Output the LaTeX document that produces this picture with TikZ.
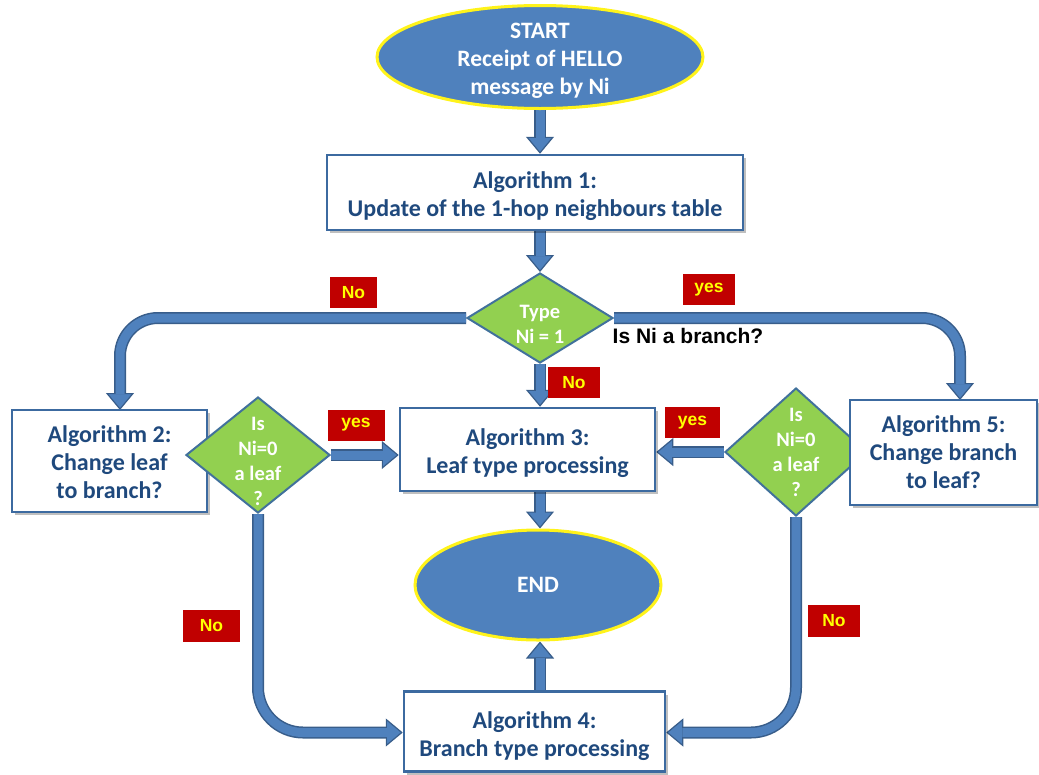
\documentclass[tikz,border=0pt]{standalone}
\usepackage{fontspec}
\setmainfont{Carlito}
\newfontfamily\arialf{Liberation Sans}
\usetikzlibrary{shapes.geometric,arrows.meta,shadows,backgrounds,calc}
\definecolor{blueFill}{HTML}{4F81BD}
\definecolor{blueEdge}{HTML}{385D8A}
\definecolor{boxEdge}{HTML}{3C6AA0}
\definecolor{textBlue}{HTML}{1F497D}
\definecolor{greenFill}{HTML}{92D050}
\definecolor{greenEdge}{HTML}{41719C}
\definecolor{lblRed}{HTML}{C00000}
\definecolor{lblYellow}{HTML}{FFFF00}
\newcommand\tpush[1]{\rule{0pt}{#1pt}}
\tikzset{
  terminal/.style={ellipse, fill=blueFill, draw=yellow!90!white, line width=3pt, inner sep=-12pt,
    text=white, font=\bfseries\fontsize{23.5}{28}\selectfont, align=center},
  algbox/.style={rectangle, fill=white, draw=boxEdge, line width=2.5pt, inner sep=0pt,
    text=textBlue, font=\bfseries\fontsize{24}{28}\selectfont, align=center,
    drop shadow={shadow xshift=3pt, shadow yshift=-3pt, fill=black, opacity=0.25}},
  decision/.style={diamond, fill=greenFill, draw=greenEdge, line width=2pt, inner sep=-25pt,
    text=white, font=\bfseries\fontsize{20.5}{25}\selectfont, align=center},
  answer/.style={rectangle, fill=lblRed, inner sep=0pt, text=lblYellow,
    font=\arialf\bfseries\fontsize{17.5}{20}\selectfont},
  pipe/.style={draw=blueFill, line width=9pt, shorten >=16pt,
    preaction={draw=blueEdge, line width=12pt, shorten >=0pt,
      -{Triangle[length=17pt,width=28pt,line width=1.2pt,fill=blueFill]}}}
}
\begin{document}
\begin{tikzpicture}[x=1pt,y=-1pt]
\useasboundingbox (0,0) rectangle (1039,774);

% nodes
\node[terminal, minimum width=326pt, minimum height=103pt] (start) at (540,57)
  {\tpush{23}START\\Receipt of HELLO\\message by Ni};
\node[algbox, minimum width=416pt, minimum height=75pt] (alg1) at (535,192.5)
  {\tpush{25}Algorithm 1:\\Update of the 1-hop neighbours table};
\node[decision, minimum width=146pt, minimum height=90pt, aspect=1.6] (d1) at (540,318)
  {\tpush{25}Type\\Ni = 1};
\node[algbox, minimum width=195pt, minimum height=102pt] (alg2) at (109.5,461)
  {\tpush{20}Algorithm 2:\\Change leaf\\to branch?};
\node[decision, minimum width=144pt, minimum height=116pt, aspect=1.25] (d2) at (258,455)
  {\tpush{26}Is\\Ni=0\\a leaf\\?};
\node[algbox, minimum width=255pt, minimum height=83pt] (alg3) at (527.5,449.5)
  {\tpush{25}Algorithm 3:\\Leaf type processing};
\node[decision, minimum width=142pt, minimum height=128pt, aspect=1.1] (d3) at (796,452)
  {Is\\Ni=0\\a leaf\\?};
\node[algbox, minimum width=187pt, minimum height=105pt] (alg5) at (943.5,452.5)
  {Algorithm 5:\\Change branch\\to leaf?};
\node[terminal, minimum width=246pt, minimum height=110pt] (end) at (538,585) {END};
\node[algbox, minimum width=261pt, minimum height=80pt] (alg4) at (534.5,731.5)
  {\tpush{26}Algorithm 4:\\Branch type processing};

\coordinate (a2in) at (120,410);
\coordinate (a5in) at (960,400);

% labels
\node[answer, minimum width=47pt, minimum height=31pt] (lno1) at (353.5,292.5) {No};
\node[answer, minimum width=52pt, minimum height=31pt] (lyes1) at (709,289.5) {yes};
\node[answer, minimum width=52pt, minimum height=31pt] (lno2) at (574,382.5) {No};
\node[answer, minimum width=57pt, minimum height=31pt] (lyes2) at (356,425) {yes};
\node[answer, minimum width=55pt, minimum height=31pt] (lyes3) at (692.5,422.5) {yes};
\node[answer, minimum width=57pt, minimum height=32pt] (lno3) at (211.5,626) {No};
\node[answer, minimum width=52pt, minimum height=32pt] (lno4) at (834,621) {No};
\node[font=\arialf\bfseries\fontsize{21}{24}\selectfont, text=black, inner sep=0pt] (branchq) at (688,336) {Is Ni a branch?};

% connectors
\begin{scope}[on background layer]
\draw[pipe] (start.south) -- (start.south |- alg1.north);
\draw[pipe] (alg1.south -| d1.north) -- (d1.north);
\draw[pipe, rounded corners=38pt] (d1.west) -| (a2in);
\draw[pipe, rounded corners=38pt] (d1.east) -| (a5in);
\draw[pipe] (d1.south) -- (d1.south |- alg3.north);
\draw[pipe] (d2.east) -- (d2.east -| alg3.west);
\draw[pipe] (d3.west) -- (d3.west -| alg3.east);
\draw[pipe] (alg3.south -| d1.south) -- (end.north -| d1.south);
\draw[pipe] (alg4.north -| d1.south) -- (end.south -| d1.south);
\draw[pipe, rounded corners=45pt] (d2.south) |- ($(alg4.west)+(0,1)$);
\draw[pipe, rounded corners=45pt] (d3.south) |- ($(alg4.east)+(0,1)$);
\end{scope}
\end{tikzpicture}
\end{document}
